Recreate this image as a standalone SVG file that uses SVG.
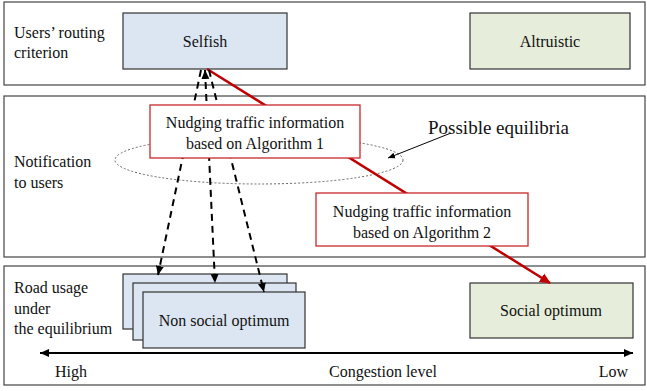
<svg xmlns="http://www.w3.org/2000/svg" width="647" height="391" viewBox="0 0 647 391">
<defs>
<style>
text{font-family:"Liberation Serif","Times New Roman","DejaVu Serif",serif;fill:#111;}
.lbl{font-size:16px;}
.box{font-size:16px;text-anchor:middle;}
.panel{fill:#fff;stroke:#444;stroke-width:1.2;}
.blue{fill:#dce6f2;stroke:#333;stroke-width:1.2;}
.green{fill:#e6eedb;stroke:#333;stroke-width:1.2;}
.redbox{fill:#fff;stroke:#c8282c;stroke-width:1.3;}
.dash{fill:none;stroke:#000;stroke-width:2;stroke-dasharray:7 5;}
</style>
<marker id="ah" markerUnits="userSpaceOnUse" markerWidth="10" markerHeight="10" refX="9" refY="5" orient="auto-start-reverse" viewBox="0 0 10 10"><path d="M0,1 L9,5 L0,9 z" fill="#000"/></marker>
<marker id="ahr" markerUnits="userSpaceOnUse" markerWidth="12" markerHeight="12" refX="10" refY="6" orient="auto" viewBox="0 0 12 12"><path d="M0,1 L11,6 L0,11 z" fill="#c00000"/></marker>
<marker id="ahs" markerUnits="userSpaceOnUse" markerWidth="8" markerHeight="8" refX="7" refY="4" orient="auto" viewBox="0 0 8 8"><path d="M0,1 L7,4 L0,7 z" fill="#000"/></marker>
<marker id="ahb" markerUnits="userSpaceOnUse" markerWidth="10" markerHeight="10" refX="9" refY="5" orient="auto-start-reverse" viewBox="0 0 10 10"><path d="M0,1 L9,5 L0,9 z" fill="#000"/></marker>
</defs>
<rect width="647" height="391" fill="#fff"/>
<g id="panels">
<rect class="panel" x="4" y="2" width="641" height="83"/>
<rect class="panel" x="4" y="96" width="641" height="161"/>
<rect class="panel" x="4" y="266" width="641" height="119"/>
</g>
<g id="labels">
<text class="lbl" x="14" y="38">Users’ routing</text>
<text class="lbl" x="14" y="58">criterion</text>
<text class="lbl" x="14" y="167">Notification</text>
<text class="lbl" x="14" y="188">to users</text>
<text class="lbl" x="14" y="293">Road usage</text>
<text class="lbl" x="14" y="314">under</text>
<text class="lbl" x="14" y="334">the equilibrium</text>
</g>
<g id="selfish"><rect class="blue" x="123" y="13" width="164" height="56"/><text class="box" x="205" y="47">Selfish</text></g>
<g id="altruistic"><rect class="green" x="470" y="13" width="160" height="56"/><text class="box" x="550" y="47">Altruistic</text></g>
<g id="equilibria"><ellipse cx="259" cy="160" rx="144" ry="24" fill="none" stroke="#666" stroke-width="1" stroke-dasharray="2 2"/></g>
<g id="non-social-optimum">
<rect class="blue" x="123" y="274" width="164" height="55"/>
<rect class="blue" x="133" y="283" width="163" height="57"/>
<rect class="blue" x="143" y="292" width="162" height="56"/>
<text class="box" x="224" y="326">Non social optimum</text>
</g>
<g id="social-optimum"><rect class="green" x="470" y="283" width="163" height="55"/><text class="box" x="551" y="316">Social optimum</text></g>
<g id="connectors">
<line x1="207" y1="69" x2="550" y2="283" stroke="#c00000" stroke-width="2.5" marker-end="url(#ahr)"/>
<line class="dash" x1="201" y1="70" x2="158" y2="275" marker-end="url(#ahb)"/>
<line class="dash" x1="205" y1="70" x2="215" y2="283" marker-start="url(#ahb)" marker-end="url(#ahb)"/>
<line class="dash" x1="209" y1="70" x2="264" y2="292" marker-end="url(#ahb)"/>
<line x1="451" y1="133" x2="388" y2="158" stroke="#000" stroke-width="1" marker-end="url(#ahs)"/>
<line x1="40" y1="353" x2="633" y2="353" stroke="#000" stroke-width="2" marker-start="url(#ah)" marker-end="url(#ah)"/>
</g>
<g id="alg1"><rect class="redbox" x="150" y="105" width="210" height="53"/><text class="box" x="255" y="128">Nudging traffic information</text><text class="box" x="255" y="149">based on Algorithm 1</text></g>
<g id="alg2"><rect class="redbox" x="316" y="193" width="212" height="53"/><text class="box" x="422" y="217">Nudging traffic information</text><text class="box" x="422" y="238">based on Algorithm 2</text></g>
<g id="texts">
<text x="428" y="134" style="font-size:19px">Possible equilibria</text>
<text class="lbl" x="55" y="377">High</text>
<text class="lbl" x="383" y="377" text-anchor="middle">Congestion level</text>
<text class="lbl" x="628" y="377" text-anchor="end">Low</text>
</g>
</svg>
